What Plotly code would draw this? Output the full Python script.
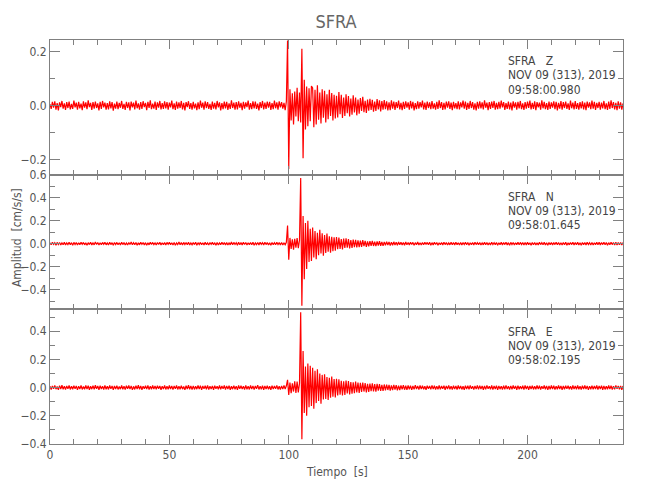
import numpy as np
import plotly.graph_objects as go
from plotly.subplots import make_subplots

DT = 0.5  # sample interval [s]
SCALE = 0.001  # values below are in thousandths of cm/s/s

Z_VALUES = [
    5, -12, 14, -8, 16, -15, 9, -18, 12, -6, 17, -11, 8, -16, 13, -9, 15, -14, 6, -12,
    18, -7, 11, -15, 14, -10, 7, -17, 16, -8, 12, -13, 19, -6, 10, -16, 13, -11, 15, -9,
    8, -18, 14, -12, 17, -7, 11, -15, 9, -14, 16, -10, 13, -19, 7, -11, 15, -13, 10, -8,
    17, -12, 6, -16, 14, -9, 12, -18, 15, -7, 11, -14, 18, -10, 8, -15, 13, -12, 16, -6,
    10, -17, 14, -9, 19, -13, 7, -11, 15, -16, 12, -8, 17, -14, 9, -12, 16, -10, 13, -15,
    11, -7, 18, -13, 8, -16, 15, -11, 12, -9, 17, -14, 10, -18, 13, -6, 16, -12, 9, -15,
    14, -10, 7, -17, 12, -13, 18, -8, 11, -15, 16, -9, 13, -12, 6, -16, 15, -11, 10, -14,
    17, -7, 12, -18, 9, -13, 15, -10, 14, -16, 8, -12, 19, -9, 11, -15, 13, -14, 16, -8,
    10, -17, 14, -11, 12, -6, 18, -15, 9, -13, 16, -10, 15, -12, 7, -18, 13, -9, 17, -14,
    11, -12, 15, -8, 14, -16, 9, -13, 18, -10, 12, -15, 16, -7, 13, -11, 10, -17, 15, 240,
    -234, 60, -55, 45, -70, 52, -40, 66, -58, 48, -62, 210, -194, 95, -88, 70, -76, 64, -58, 72,
    65, -80, 58, -70, 75, -52, 48, -66, 60, -45, 55, -62, 42, -50, 58, -38, 46, -55, 40, -48,
    36, -44, 50, -32, 40, -46, 30, -38, 42, -28, 35, -40, 26, -34, 38, -25, 30, -36, 22, -30,
    28, -20, 32, -24, 18, -27, 22, -19, 25, -16, 21, -23, 15, -20, 24, -14, 19, -22, 17, -15,
    20, -13, 16, -18, 12, -17, 19, -11, 15, -16, 13, -9, 18, -14, 10, -17, 14, -12, 16, -8,
    12, -15, 17, -10, 14, -18, 9, -13, 16, -11, 13, -7, 18, -14, 11, -16, 15, -9, 12, -13,
    17, -11, 8, -15, 14, -12, 19, -9, 13, -16, 10, -14, 15, -8, 16, -12, 11, -17, 14, -10,
    9, -13, 16, -14, 12, -7, 18, -11, 15, -16, 10, -12, 17, -9, 13, -15, 8, -18, 14, -11,
    16, -10, 12, -14, 19, -8, 11, -17, 13, -12, 15, -9, 17, -15, 10, -13, 14, -11, 18, -7,
    13, -16, 9, -12, 15, -14, 11, -18, 16, -8, 12, -15, 14, -10, 17, -13, 8, -16, 13, -11,
    15, -9, 18, -14, 10, -12, 16, -17, 13, -7, 11, -15, 19, -10, 14, -13, 9, -16, 15, -12,
    12, -8, 16, -13, 14, -18, 10, -11, 17, -15, 13, -9, 15, -12, 8, -16, 18, -10, 11, -14,
    17, -12, 9, -15, 13, -10, 16, -14, 11, -17, 15, -8, 12, -13, 18, -11, 14, -16, 10, -9,
    14, -15, 11, -10, 17, -13, 8, -16, 15, -12, 19, -9, 13, -14, 10, -17, 16, -11, 12, -15,
    8,
]

N_VALUES = [
    8, -10, 12, -6, 9, -13, 11, -7, 10, -12, 6, -9, 13, -11, 7, -8, 12, -10, 9, -14,
    11, -7, 10, -12, 8, -9, 13, -6, 11, -10, 7, -13, 9, -8, 12, -11, 6, -10, 14, -7,
    10, -12, 8, -9, 11, -6, 13, -10, 7, -11, 12, -8, 9, -13, 10, -7, 11, -9, 8, -12,
    13, -8, 10, -11, 6, -12, 9, -7, 14, -10, 8, -9, 11, -13, 7, -10, 12, -6, 10, -11,
    9, -13, 7, -10, 12, -8, 11, -9, 6, -12, 10, -7, 13, -11, 8, -10, 9, -12, 11, -6,
    12, -9, 8, -11, 10, -13, 7, -8, 14, -10, 9, -12, 11, -7, 10, -9, 13, -11, 6, -10,
    10, -8, 12, -13, 9, -7, 11, -10, 8, -12, 13, -9, 7, -11, 10, -6, 12, -10, 9, -13,
    11, -12, 7, -9, 13, -8, 10, -11, 9, -12, 6, -10, 14, -9, 11, -7, 8, -13, 12, -10,
    9, -11, 13, -7, 10, -12, 8, -10, 11, -9, 12, -13, 7, -8, 10, -11, 13, -6, 9, -12,
    12, -8, 10, -11, 7, -13, 11, -9, 8, -10, 13, -7, 9, -12, 10, -11, 6, -9, 12, 157,
    -139, 50, -45, 38, -52, 42, -35, 48, -40, 30, 571, -540, 240, -310, 180, -220, 200, -160, 130, -150,
    140, -120, 110, -135, 95, -100, 120, -85, 90, -105, 75, -80, 88, -70, 65, -78, 60, -66, 55, -62,
    58, -48, 52, -45, 40, -50, 44, -38, 46, -35, 40, -42, 32, -38, 36, -30, 34, -32, 28, -30,
    26, -28, 30, -22, 25, -27, 20, -24, 22, -18, 24, -20, 17, -22, 19, -16, 21, -18, 15, -19,
    16, -14, 18, -12, 15, -17, 13, -14, 16, -11, 12, -15, 14, -10, 13, -12, 11, -14, 15, -9,
    10, -12, 13, -8, 11, -13, 9, -10, 14, -11, 8, -12, 10, -9, 13, -7, 11, -10, 12, -13,
    9, -11, 12, -7, 10, -13, 8, -9, 11, -12, 13, -8, 10, -11, 7, -10, 12, -9, 11, -12,
    13, -9, 8, -11, 10, -12, 9, -7, 12, -10, 11, -13, 8, -9, 10, -11, 13, -8, 9, -10,
    11, -12, 7, -10, 13, -9, 10, -11, 8, -12, 12, -7, 9, -10, 11, -13, 8, -9, 12, -11,
    10, -8, 12, -11, 9, -13, 11, -7, 10, -12, 8, -9, 13, -10, 11, -8, 9, -12, 10, -11,
    12, -10, 8, -13, 11, -9, 10, -12, 7, -11, 13, -8, 9, -10, 12, -11, 8, -13, 10, -9,
    11, -12, 9, -8, 13, -10, 10, -11, 8, -12, 11, -9, 12, -13, 7, -10, 10, -8, 13, -11,
    9, -10, 12, -11, 8, -13, 11, -9, 10, -12, 13, -7, 9, -11, 10, -12, 8, -9, 12, -10,
    13, -11, 10, -8, 12, -9, 11, -13, 9, -10, 12, -8, 10, -11, 13, -12, 9, -10, 11, -12,
    10,
]

E_VALUES = [
    10, -14, 12, -9, 16, -11, 8, -15, 13, -10, 17, -12, 9, -14, 11, -8, 15, -13, 10, -12,
    14, -9, 12, -16, 10, -11, 15, -13, 8, -12, 16, -10, 13, -15, 9, -11, 14, -12, 17, -8,
    11, -15, 13, -10, 9, -14, 16, -12, 10, -13, 15, -9, 12, -16, 11, -10, 14, -13, 8, -11,
    16, -12, 10, -14, 13, -8, 15, -11, 12, -16, 9, -13, 14, -10, 17, -12, 11, -15, 10, -9,
    13, -11, 16, -14, 9, -12, 15, -10, 11, -13, 14, -8, 12, -15, 10, -11, 16, -13, 9, -12,
    15, -10, 12, -14, 11, -9, 16, -13, 10, -12, 14, -11, 8, -15, 13, -10, 17, -12, 11, -14,
    12, -13, 9, -11, 15, -10, 14, -16, 11, -9, 13, -12, 16, -14, 10, -11, 12, -15, 14, -8,
    10, -12, 15, -13, 11, -9, 16, -14, 12, -10, 13, -15, 9, -11, 14, -12, 10, -16, 15, -9,
    13, -11, 10, -14, 16, -12, 9, -13, 15, -10, 12, -14, 11, -8, 17, -13, 10, -12, 14, -15,
    11, -10, 13, -12, 9, -15, 14, -11, 12, -9, 16, -13, 10, -14, 12, -11, 15, -10, 13, 55,
    -52, 35, -40, 30, -28, 45, -38, 42, -35, 30, 535, -366, 260, -180, 150, -200, 170, -140, 155, -130,
    140, -150, 120, -110, 130, -95, 100, -115, 90, -85, 95, -80, 75, -88, 70, -72, 78, -65, 60, -70,
    62, -55, 58, -50, 48, -56, 45, -52, 50, -42, 46, -48, 40, -44, 38, -40, 42, -35, 36, -38,
    34, -30, 36, -28, 32, -34, 27, -30, 29, -25, 31, -27, 24, -28, 26, -22, 25, -24, 20, -23,
    22, -19, 21, -17, 20, -22, 16, -18, 19, -15, 18, -20, 14, -17, 16, -13, 18, -15, 13, -16,
    15, -12, 14, -16, 11, -13, 17, -10, 12, -14, 15, -11, 13, -12, 10, -15, 14, -9, 12, -13,
    16, -11, 13, -14, 10, -12, 15, -13, 11, -9, 14, -15, 12, -10, 16, -12, 9, -14, 13, -11,
    11, -14, 15, -10, 12, -13, 9, -15, 14, -11, 13, -12, 16, -9, 10, -14, 12, -11, 15, -13,
    14, -10, 12, -15, 11, -13, 16, -9, 10, -12, 15, -14, 11, -10, 13, -16, 12, -11, 9, -14,
    13, -12, 16, -11, 10, -14, 12, -13, 15, -9, 11, -15, 14, -12, 10, -11, 13, -14, 16, -10,
    12, -15, 11, -10, 14, -13, 9, -12, 16, -11, 13, -14, 10, -9, 15, -12, 12, -16, 11, -13,
    15, -11, 13, -14, 10, -12, 16, -10, 12, -15, 11, -13, 14, -9, 13, -12, 10, -14, 15, -11,
    11, -13, 16, -12, 9, -14, 13, -11, 15, -10, 12, -16, 10, -12, 14, -13, 11, -10, 16, -14,
    12, -10, 14, -15, 11, -13, 9, -12, 15, -11, 13, -14, 10, -12, 16, -9, 12, -13, 11, -15,
    12,
]

COMPONENTS = ["Z", "N", "E"]
START_TIMES = ["09:58:00.980", "09:58:01.645", "09:58:02.195"]
DATE_LABEL = "NOV 09 (313), 2019"
STATION = "SFRA"
Y_RANGES = [[-0.255, 0.242], [-0.571, 0.6], [-0.4, 0.555]]
X_RANGE = [0, 240]
X_TICKS = [0, 50, 100, 150, 200]

FONT = "Liberation Sans Narrow, DejaVu Sans Condensed, Arial Narrow, sans-serif"
TXT = "#555555"
AX = "#808080"
NB = "\u00a0"

# figure size / plot area (page is offset by the 8px body margin)
W, HGT = 642, 492
L, R, T, B = 40, 27, 32, 56
PW = W - L - R
PH = HGT - T - B
OFF = 8


def px(xpage):
    return (xpage - OFF - L) / PW


def py(ypage):
    return (HGT - B - (ypage - OFF)) / PH


fig = make_subplots(rows=3, cols=1, shared_xaxes=True, vertical_spacing=0)

for i, vals in enumerate([Z_VALUES, N_VALUES, E_VALUES]):
    v = np.array(vals, dtype=float) * SCALE
    t = np.arange(len(v)) * DT
    fig.add_trace(
        go.Scatter(x=t, y=v, mode="lines", line=dict(color="#ff0000", width=1.2),
                   showlegend=False, hoverinfo="skip"),
        row=i + 1, col=1,
    )

for i in range(3):
    fig.update_xaxes(
        range=X_RANGE, showline=True, linecolor=AX, linewidth=1, mirror="allticks",
        ticks="inside", ticklen=9, tickcolor=AX, tickvals=X_TICKS,
        minor=dict(dtick=10, tick0=0, ticks="inside", ticklen=5, tickcolor=AX),
        showgrid=False, zeroline=False, showticklabels=(i == 2),
        tickfont=dict(family=FONT, size=12, color=TXT),
        row=i + 1, col=1,
    )
    fig.update_yaxes(
        range=Y_RANGES[i], showline=True, linecolor=AX, linewidth=1, mirror="allticks",
        ticks="inside", ticklen=10, tickcolor=AX, tick0=0, dtick=0.2, tickformat=".1f",
        minor=dict(dtick=0.1, tick0=0, ticks="inside", ticklen=5, tickcolor=AX),
        showgrid=False, zeroline=False,
        tickfont=dict(family=FONT, size=12, color=TXT),
        row=i + 1, col=1,
    )

annotations = []
line_px = [[61, 75.5, 90], [196.7, 211.3, 225], [331.7, 346.3, 360]]
for i in range(3):
    texts = [STATION + NB * 3 + COMPONENTS[i], DATE_LABEL, START_TIMES[i]]
    for txt, ypage in zip(texts, line_px[i]):
        annotations.append(dict(
            text=txt, xref="paper", yref="paper", x=px(505.5), y=py(ypage),
            xanchor="left", yanchor="middle", showarrow=False,
            font=dict(family=FONT, size=12, color="#444444"),
        ))
annotations.append(dict(
    text="Amplitud" + NB * 2 + "[cm/s/s]", xref="paper", yref="paper", x=px(15), y=py(238),
    xanchor="center", yanchor="middle", textangle=-90,
    showarrow=False, font=dict(family=FONT, size=12, color=TXT),
))
annotations.append(dict(
    text="Tiempo" + NB * 2 + "[s]", xref="paper", yref="paper", x=px(336), y=py(471.7),
    xanchor="center", yanchor="middle",
    showarrow=False, font=dict(family=FONT, size=12, color=TXT),
))

fig.update_layout(
    width=W, height=HGT,
    margin=dict(l=L, r=R, t=T, b=B),
    paper_bgcolor="white", plot_bgcolor="white",
    title=dict(text=STATION, x=(336 - OFF) / W, xanchor="center", y=1 - (22 - OFF) / HGT,
               yanchor="middle", font=dict(family=FONT, size=18, color="#666666")),
    annotations=annotations,
)

fig.write_html("out.html")
